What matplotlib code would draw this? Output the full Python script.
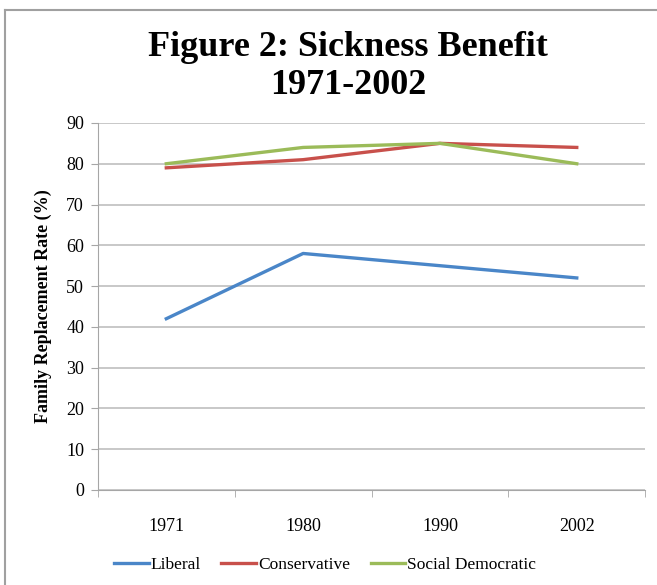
import matplotlib.pyplot as plt
from matplotlib.lines import Line2D

anos = ["1971", "1980", "1990", "2002"]
liberal = [42, 58, 55, 52]
conservative = [79, 81, 85, 84]
social_democratic = [80, 84, 85, 80]

plt.rcParams['font.family'] = ['Liberation Serif', 'DejaVu Serif']

fig = plt.figure(figsize=(6.57, 5.85), dpi=100)
ax = fig.add_axes([0.149, 0.1624, 0.833, 0.6274])

x = range(len(anos))
ax.plot(x, liberal, color='#4a86c8', lw=2.4, label='Liberal')
ax.plot(x, conservative, color='#c8504b', lw=2.4, label='Conservative')
ax.plot(x, social_democratic, color='#9bbb59', lw=2.4, label='Social Democratic')

ax.set_xlim(-0.5, 3.5)
ax.set_ylim(0, 90)
ax.set_yticks(range(0, 91, 10))
ax.set_xticks(x)
ax.set_xticklabels(anos, fontsize=13)
ax.set_xticks([-0.5, 0.5, 1.5, 2.5, 3.5], minor=True)
ax.tick_params(axis='x', which='major', length=0, pad=20)
ax.tick_params(axis='x', which='minor', length=5, color='#a6a6a6', direction='out')
ax.tick_params(axis='y', length=5, color='#a6a6a6', labelsize=13, pad=5)
ax.grid(axis='y', color='#c4c4c4', lw=1.3)
ax.set_axisbelow(True)
for lado in ['top', 'right']:
    ax.spines[lado].set_visible(False)
for lado in ['left', 'bottom']:
    ax.spines[lado].set_color('#a6a6a6')
ax.set_ylabel('Family Replacement Rate (%)', fontsize=13, fontweight='bold', labelpad=10)

fig.text(0.53, 1 - 47/585, 'Figure 2: Sickness Benefit', ha='center', va='center',
         fontsize=26, fontweight='bold')
fig.text(0.53, 1 - 86/585, '1971-2002', ha='center', va='center',
         fontsize=26, fontweight='bold')

ax.legend(loc='center', bbox_to_anchor=(0.415, (565 - 490) / -367), ncol=3, frameon=False,
          fontsize=12.5, handlelength=2.0, handletextpad=0.1, columnspacing=1.2)

# borda do quadro
fig.add_artist(Line2D([5/657, 5/657], [0, 1 - 10/585], transform=fig.transFigure, color='#a0a0a0', lw=1.5))
fig.add_artist(Line2D([5/657, 1], [1 - 10/585, 1 - 10/585], transform=fig.transFigure, color='#a0a0a0', lw=1.5))

fig.savefig('out.png', dpi=100)
